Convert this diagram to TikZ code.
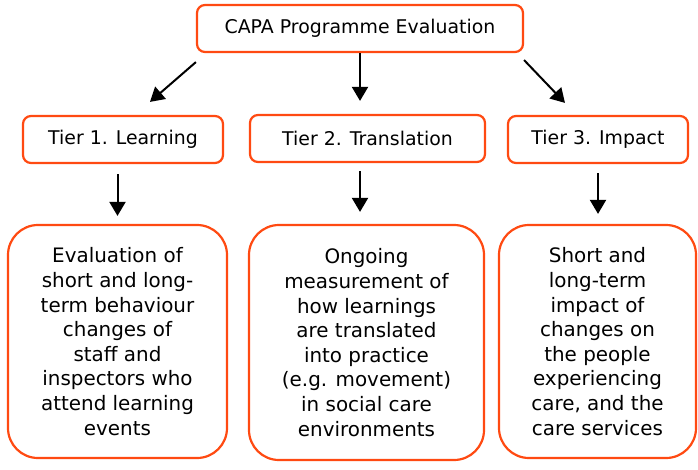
\documentclass[tikz,border=0pt]{standalone}
\usepackage{fontspec}
\setmainfont{DejaVu Sans}
\usetikzlibrary{calc,arrows.meta}
\definecolor{capaorange}{HTML}{FF4A12}

\begin{document}
\begin{tikzpicture}[x=1pt, y=1pt,
  box/.style={draw=capaorange, line width=2.2pt, rounded corners=8pt, fill=white,
              minimum height=47pt, align=center, inner sep=0pt,
              font=\fontsize{18.9}{22}\selectfont},
  top/.style={box, minimum width=326pt},
  tier/.style={box},
  detail/.style={box, rounded corners=30pt, font=\fontsize{19.9}{24.6}\selectfont},
  arr/.style={-{Triangle[length=14pt, width=16pt]}, line width=2pt}
]
  \useasboundingbox (0,0) rectangle (698,-469);

  % Top tier
  \node[top] (eval) at (360,-28.5) {CAPA Programme Evaluation};

  % Three tiers
  \node[tier, minimum width=200pt] (learn)  at (123,-139.5) {Tier 1. Learning};
  \node[tier, minimum width=235pt] (trans)  at (367.5,-138.5) {Tier 2. Translation};
  \node[tier, minimum width=180pt] (impact) at (598,-139.5) {Tier 3. Impact};

  % What each tier measures
  \node[detail, minimum width=219pt, minimum height=233pt] (learnbox) at (117.5,-341.5)
    {Evaluation of\\short and long-\\term behaviour\\changes of\\staff and\\inspectors who\\attend learning\\events};
  \node[detail, minimum width=235pt, minimum height=235pt] (transbox) at (366.5,-342.5)
    {Ongoing\\measurement of\\how learnings\\are translated\\into practice\\(e.g. movement)\\in social care\\environments};
  \node[detail, minimum width=197pt, minimum height=233pt] (impactbox) at (597.5,-341.5)
    {Short and\\long-term\\impact of\\changes on\\the people\\experiencing\\care, and the\\care services};

  % Edges
  \draw[arr] ([yshift=-9pt]eval.south west) -- ([shift={(27pt,13pt)}]learn.north);
  \draw[arr] (eval.south) -- ($(eval.south |- trans.north)+(0,13)$);
  \draw[arr] ([yshift=-7pt]eval.south east) -- ([shift={(-33pt,12pt)}]impact.north);

  \draw[arr] ($(learnbox.north |- learn.south)+(0,-10)$) -- ($(learnbox.north)+(0,8)$);
  \draw[arr] ($(eval.south |- trans.south)+(0,-8)$) -- ($(eval.south |- transbox.north)+(0,12)$);
  \draw[arr] ([yshift=-9pt]impact.south) -- ([yshift=10pt]impact.south |- impactbox.north);
\end{tikzpicture}
\end{document}
